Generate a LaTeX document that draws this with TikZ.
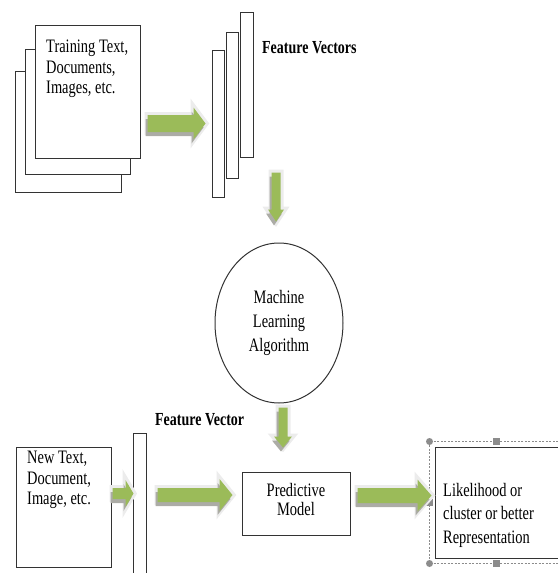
\documentclass[tikz,border=0pt]{standalone}
\usepackage{fontspec}
\setmainfont[FakeStretch=0.76]{Liberation Serif}
\usetikzlibrary{arrows,shapes,calc,positioning,shadows}
\definecolor{arrgreen}{RGB}{155,187,89}
\definecolor{glowgray}{RGB}{236,236,236}
\definecolor{shadowgray}{RGB}{172,172,166}
\definecolor{handlegray}{RGB}{140,140,140}

\begin{document}
\begin{tikzpicture}[x=1pt,y=-1pt]
		\tikzstyle{every node}=[font=\fontsize{19}{20.5}\selectfont]
		\tikzstyle{page}=[draw=black!80, line width=1pt, fill=white, inner sep=0pt]
		\tikzstyle{txt}=[inner sep=0pt, anchor=north west, align=left]
		\tikzstyle{bold label}=[inner sep=0pt, anchor=west, font=\bfseries\fontsize{18.4}{20}\selectfont]
		\tikzstyle{fat}=[fill=arrgreen, preaction={draw=glowgray, line width=6pt, line join=miter}, general shadow={shadow xshift=-2pt, shadow yshift=-4pt, fill=shadowgray}]
		\tikzset{
			harrow/.style n args={3}{to path={let \p1=(\tikztostart), \p2=(\tikztotarget) in
				(\x1,\y1+#1) -- (\x2-#3,\y1+#1) -- (\x2-#3,\y1+#2) -- (\x2,\y1) -- (\x2-#3,\y1-#2) -- (\x2-#3,\y1-#1) -- (\x1,\y1-#1) -- cycle}},
			varrow/.style n args={3}{to path={let \p1=(\tikztostart), \p2=(\tikztotarget) in
				(\x1-#1,\y1) -- (\x1-#1,\y2+#3) -- (\x1-#2,\y2+#3) -- (\x1,\y2) -- (\x1+#2,\y2+#3) -- (\x1+#1,\y2+#3) -- (\x1+#1,\y1) -- cycle}}
		}
		\useasboundingbox (0,0) rectangle (557,573);
		% training documents
		\node [page, minimum width=106pt, minimum height=121pt] (docC) at (68,131.5) {};
		\node [page, minimum width=105pt, minimum height=125pt] (docB) at (77.5,111.5) {};
		\node [page, minimum width=105pt, minimum height=133pt] (docA) at (87.5,91.5) {};
		\node [txt] (trainTxt) at (46,40) {Training Text,\\Documents,\\Images, etc.};
		% feature vectors
		\node [page, minimum width=12pt, minimum height=147pt] (vecA) at (218,123.5) {};
		\node [page, minimum width=12pt, minimum height=146pt] (vecB) at (232,105) {};
		\node [page, minimum width=13pt, minimum height=145pt] (vecC) at (246.5,84.5) {};
		\node [bold label] (fvLabel) at (262,48) {Feature Vectors};
		\node [draw=black!80, line width=1pt, ellipse, minimum width=128pt, minimum height=160pt, inner sep=0pt, align=center, font=\fontsize{19}{24}\selectfont] (ml) at (279,323) {Machine\\Learning\\Algorithm};
		% new data
		\node [bold label] (fvOne) at (155,420) {Feature Vector};
		\node [page, minimum width=95pt, minimum height=120pt] (newDoc) at (63.5,507) {};
		\node [txt] (newTxt) at (27,451) {New Text,\\Document,\\Image, etc.};
		\node [page, minimum width=13pt, minimum height=147pt] (nVec) at (139.5,506.5) {};
		\node [page, minimum width=108pt, minimum height=63pt, align=center, font=\fontsize{19}{19.5}\selectfont] (pm) at (296,503.5) {Predictive\\Model\rule[-8pt]{0pt}{0pt}};
		\node [page, minimum width=125pt, minimum height=111pt] (res) at (497.5,502.5) {};
		\node [txt, font=\fontsize{19}{23.5}\selectfont] (resTxt) at (443,483) {Likelihood or\\cluster or better\\Representation};
		% selection frame
		\coordinate (selNW) at ($(res.north west)+(-5,-5)$);
		\coordinate (selSW) at ($(res.south west)+(-5,5)$);
		\draw [handlegray, line width=0.6pt, dash pattern=on 2pt off 1.5pt] (selNW) rectangle ($(selSW)+(140,0)$);
		\fill [handlegray] (selNW) circle (3.5);
		\fill [handlegray] (selSW) circle (3.5);
		\fill [handlegray] ($(selNW)+(63.5,-3.5)$) rectangle +(7,7);
		\fill [handlegray] ($(selSW)+(63.5,-3.5)$) rectangle +(7,7);
		\fill [handlegray] ($(selNW)!0.5!(selSW)+(-3.5,-3.5)$) rectangle +(7,7);
		% arrows
		\fill [fat] ($(docA.east |- vecA.west)+(7,0)$) to[harrow={8.5pt}{16pt}{12pt}] ($(vecA.west)+(-6,0)$);
		\fill [fat] ($(ml.north)+(-3,-70)$) to[varrow={4.5pt}{8pt}{12pt}] ($(ml.north)+(-3,-21)$);
		\fill [fat] ($(ml.south)+(4,4)$) to[varrow={4.5pt}{9pt}{11pt}] ($(pm.north)+(-13,-24)$);
		\fill [fat] ($(newDoc.east)+(1,-13.5)$) to[harrow={5.5pt}{13.5pt}{8pt}] ($(nVec.west |- newDoc.east)+(1,-13.5)$);
		\fill [fat] ($(nVec.east)+(11,-11.5)$) to[harrow={7pt}{16pt}{13pt}] ($(pm.west)+(-9,-8.5)$);
		\fill [fat] ($(pm.east)+(7,-8)$) to[harrow={7.5pt}{16pt}{14pt}] ($(res.west)+(-3,-7)$);
\end{tikzpicture}
\end{document}
